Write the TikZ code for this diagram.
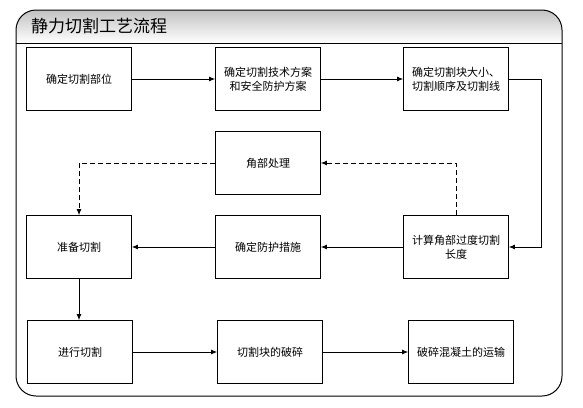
\documentclass[tikz,border=0pt]{standalone}
\usepackage{fontspec}
\setmainfont{Noto Sans CJK SC}
\usetikzlibrary{arrows.meta,positioning}

\begin{document}
\begin{tikzpicture}[x=1pt,y=-1pt,
  stepbox/.style={draw,line width=.8pt,minimum width=105pt,minimum height=63pt,
    inner sep=1pt,align=center,font=\fontsize{11}{14}\selectfont},
  flow/.style={-{Latex[length=6pt,width=5pt]},line width=.8pt},
  hint/.style={flow,dash pattern=on 5pt off 3pt}]
\useasboundingbox (0,0) rectangle (583,407);
% frame and header band
\shade[top color=gray!48,bottom color=white] (16,43) [rounded corners=20pt] -- (16,10) -- (562,10) [sharp corners] -- (562,43) -- cycle;
\draw[line width=1pt,rounded corners=20pt] (16,10) rectangle (562,396);
\draw[line width=.8pt] (16,43) -- (562,43);
\node[anchor=west,inner sep=0,font=\fontsize{17}{17}\selectfont] (title) at (31,26) {静力切割工艺流程};
% steps
\node[stepbox] (n1) at (79,79) {确定切割部位};
\node[stepbox] (n2) at (268,79) {确定切割技术方案\\和安全防护方案};
\node[stepbox] (n3) at (456,79) {确定切割块大小、\\切割顺序及切割线};
\node[stepbox] (n4) at (268,163) {角部处理};
\node[stepbox] (n5) at (79,247) {准备切割};
\node[stepbox] (n6) at (268,247) {确定防护措施};
\node[stepbox] (n7) at (456,247) {计算角部过度切割\\长度};
\node[stepbox] (n8) at (80,352) {进行切割};
\node[stepbox] (n9) at (270,352) {切割块的破碎};
\node[stepbox] (n10) at (461,352) {破碎混凝土的运输};
% connectors
\draw[flow] (n1) -- (n2);
\draw[flow] (n2) -- (n3);
\draw[flow] (n3.east) -- ++(32,0) |- (n7.east);
\draw[flow] (n7) -- (n6);
\draw[flow] (n6) -- (n5);
\draw[hint] (n7.north) |- (n4.east);
\draw[hint] (n4.west) -| (n5.north);
\draw[flow] (n5.south) -- (n5.south |- n8.north);
\draw[flow] (n8) -- (n9);
\draw[flow] (n9) -- (n10);
\end{tikzpicture}
\end{document}
